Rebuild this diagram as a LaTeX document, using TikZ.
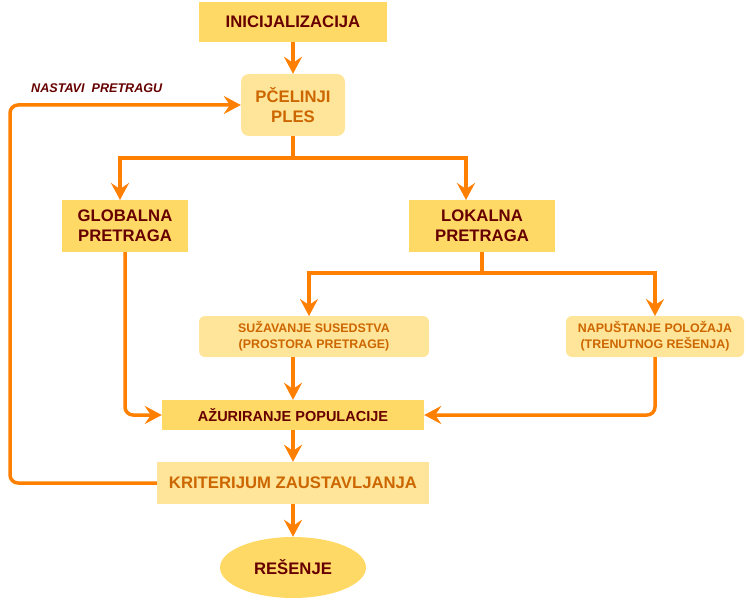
\documentclass[tikz,border=0pt]{standalone}
\usepackage{fontspec}
\setmainfont{Liberation Sans}
\usetikzlibrary{arrows.meta,shapes.geometric}
\definecolor{darkfill}{HTML}{FFD966}
\definecolor{lightfill}{HTML}{FFE599}
\definecolor{darktext}{HTML}{660000}
\definecolor{orangetext}{HTML}{CC6600}
\definecolor{arrowcol}{HTML}{FF8000}
\tikzset{
  darkbox/.style={draw=none,fill=darkfill,text=darktext,font=\bfseries\fontsize{16.7}{20}\selectfont,align=center,inner sep=0pt},
  lightbox/.style={draw=none,fill=lightfill,text=orangetext,font=\bfseries\fontsize{16.7}{20}\selectfont,align=center,inner sep=0pt},
  smalltext/.style={font=\bfseries\fontsize{12.4}{16}\selectfont},
  conn/.style={draw=arrowcol,line width=3.5pt,rounded corners=8pt,-{Stealth[length=17pt,width=18pt,inset=6pt]}},
  plainline/.style={draw=arrowcol,line width=3.5pt},
}
\begin{document}
\begin{tikzpicture}[x=1pt,y=-1pt]
\useasboundingbox (0,0) rectangle (746,601);
\node[darkbox,minimum width=188pt,minimum height=40pt] (init) at (293,22) {INICIJALIZACIJA};
\node[lightbox,rounded corners=8pt,minimum width=104pt,minimum height=62pt] (ples) at (293,105) {PČELINJI\\PLES};
\node[darkbox,minimum width=126pt,minimum height=52pt] (glob) at (125,226) {GLOBALNA\\PRETRAGA};
\node[darkbox,minimum width=146pt,minimum height=52pt] (lok) at (482,226) {LOKALNA\\PRETRAGA};
\node[lightbox,smalltext,rounded corners=6pt,minimum width=230pt,minimum height=41pt] (suz) at (314,336.5) {SUŽAVANJE SUSEDSTVA\\(PROSTORA PRETRAGE)};
\node[lightbox,smalltext,rounded corners=6pt,minimum width=178pt,minimum height=41pt] (nap) at (655,336.5) {NAPUŠTANJE POLOŽAJA\\(TRENUTNOG REŠENJA)};
\node[darkbox,font=\bfseries\fontsize{14.5}{17}\selectfont,minimum width=262pt,minimum height=30pt] (azur) at (293,415) {AŽURIRANJE POPULACIJE};
\node[lightbox,minimum width=272pt,minimum height=42pt] (krit) at (293,483) {KRITERIJUM ZAUSTAVLJANJA};
\node[ellipse,fill=darkfill,text=darktext,font=\bfseries\fontsize{16.7}{20}\selectfont,minimum width=146pt,minimum height=61pt,inner sep=0pt] (res) at (293,567.5) {REŠENJE};
\node[text=darktext,font=\bfseries\itshape\fontsize{12.6}{14}\selectfont,anchor=west,inner sep=0pt] (nastavi) at (31,88) {NASTAVI\ \ PRETRAGU};

\coordinate (split1) at (293,158);
\coordinate (split2) at (482,273);
\draw[conn] (init.south) -- (ples.north);
\draw[plainline] (ples.south) -- (split1);
\draw[conn,rounded corners=0pt] (split1) -- (120,158) -- (120,200);
\draw[conn,rounded corners=0pt] (split1) -- (466,158) -- (466,200);
\draw[plainline] (lok.south) -- (split2);
\draw[conn,rounded corners=0pt] (split2) -- (309,273) -- (309,316);
\draw[conn,rounded corners=0pt] (split2) -- (655,273) -- (655,316);
\draw[conn] (glob.south) -- (125,415) -- (azur.west);
\draw[conn] (293,357) -- (azur.north);
\draw[conn] (nap.south) -- (655,415) -- (azur.east);
\draw[conn] (azur.south) -- (krit.north);
\draw[conn] (krit.south) -- (res.north);
\draw[conn] (krit.west) -- (10,483) -- (10,105) -- (ples.west);
\end{tikzpicture}
\end{document}
